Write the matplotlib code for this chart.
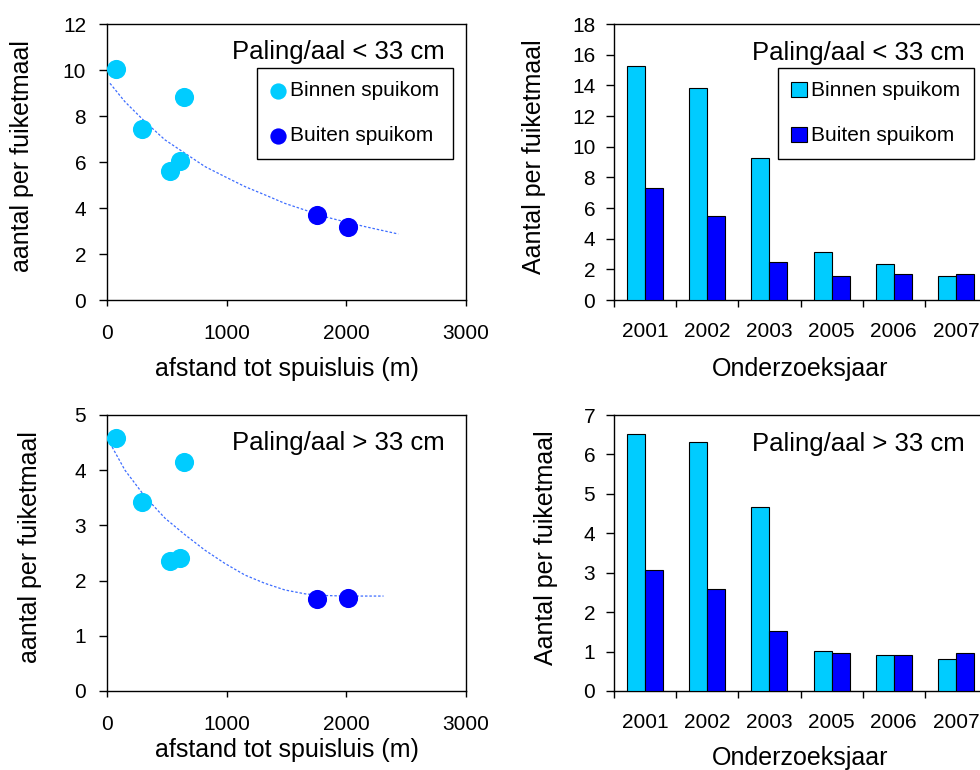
import numpy as np
import matplotlib
matplotlib.use("Agg")
import matplotlib.pyplot as plt

plt.rcParams['font.family'] = ['Liberation Sans', 'DejaVu Sans']

# afstand tot spuisluis (m) per fuikpositie
afstand_binnen = [72, 296, 527, 611, 644]
afstand_buiten = [1751, 2018]

# aantal per fuiketmaal, kleine paling (< 33 cm)
klein_binnen = [10.04, 7.43, 5.59, 6.04, 8.82]
klein_buiten = [3.70, 3.16]

# aantal per fuiketmaal, grote paling (> 33 cm)
groot_binnen = [4.58, 3.42, 2.36, 2.41, 4.14]
groot_buiten = [1.67, 1.69]

# trendlijnen
trend_x_klein = [25, 150, 318, 485, 652, 819, 986, 1153, 1320, 1487, 1655, 1822, 1989, 2156, 2434]
trend_klein = [9.42, 8.62, 7.75, 6.96, 6.38, 5.80, 5.36, 4.93, 4.57, 4.20, 3.91, 3.62, 3.40, 3.19, 2.87]
trend_x_groot = [25, 150, 318, 485, 652, 819, 986, 1153, 1320, 1487, 1655, 1822, 1989, 2311]
trend_groot = [4.49, 4.00, 3.52, 3.13, 2.83, 2.55, 2.31, 2.10, 1.95, 1.83, 1.76, 1.73, 1.72, 1.72]

# per onderzoeksjaar
jaren = ['2001', '2002', '2003', '2005', '2006', '2007']
jaar_klein_binnen = [15.24, 13.82, 9.25, 3.13, 2.35, 1.57]
jaar_klein_buiten = [7.29, 5.48, 2.48, 1.57, 1.70, 1.70]
jaar_groot_binnen = [6.53, 6.32, 4.66, 1.02, 0.91, 0.81]
jaar_groot_buiten = [3.08, 2.58, 1.52, 0.96, 0.91, 0.96]

licht = '#00CCFF'
donker = '#0000FF'
trend_kleur = '#3D6DFF'

W, H = 980, 770
fig = plt.figure(figsize=(W / 100, H / 100), dpi=100)


def px_axes(x0, y0, x1, y1):
    # rechthoek in pixels (links, boven, rechts, onder)
    return fig.add_axes([x0 / W, 1 - y1 / H, (x1 - x0) / W, (y1 - y0) / H])


def opmaak(ax, ypad):
    for s in ax.spines.values():
        s.set_linewidth(1.0)
        s.set_color('black')
    ax.tick_params(axis='y', direction='out', length=6, width=1, pad=ypad, labelsize=15)
    ax.tick_params(axis='x', direction='out', length=4, width=1, pad=13, labelsize=15)


def ylabel(ax, tekst, xpos):
    ax.set_ylabel(tekst, fontsize=18)
    ax.yaxis.label.set_verticalalignment('center')
    ax.yaxis.set_label_coords(xpos, 0.52)


def spreiding(ax, yb, yu, tx, ty, ymax, yticks, titel, legenda, label_top, ylab_x):
    ax.plot(tx, ty, color=trend_kleur, lw=0.9, linestyle=(0, (2, 1.5)), zorder=2)
    ax.scatter(afstand_binnen, yb, s=190, color=licht, label='Binnen spuikom',
               zorder=3, linewidths=0)
    ax.scatter(afstand_buiten, yu, s=190, color=donker, label='Buiten spuikom',
               zorder=3, linewidths=0)
    ax.set_xlim(0, 3000)
    ax.set_ylim(0, ymax)
    ax.set_xticks([0, 1000, 2000, 3000])
    ax.set_yticks(yticks)
    opmaak(ax, 9)
    ax.text(0.942, 0.873, titel, transform=ax.transAxes, ha='right', va='baseline', fontsize=18.5)
    ax.set_xlabel('afstand tot spuisluis (m)', fontsize=18)
    ax.xaxis.set_label_coords(0.5, label_top)
    ylabel(ax, 'aantal per fuiketmaal', ylab_x)
    if legenda:
        ax.legend(loc='upper right', bbox_to_anchor=(0.964, 0.841), fontsize=15,
                  frameon=True, fancybox=False, edgecolor='black', framealpha=1,
                  borderpad=0.65, labelspacing=1.25, handlelength=0.7,
                  handletextpad=0.25, borderaxespad=0, scatterpoints=1, markerscale=0.85)
        ax.get_legend().get_frame().set_linewidth(1.0)


def staven(ax, vb, vu, ymax, yticks, titel, legenda, label_top, ylab_x):
    idx = np.arange(len(jaren))
    bw = 0.29
    ax.bar(idx + 0.5 - bw / 2, vb, width=bw, color=licht, edgecolor='black', lw=0.8,
           label='Binnen spuikom', zorder=3)
    ax.bar(idx + 0.5 + bw / 2, vu, width=bw, color=donker, edgecolor='black', lw=0.8,
           label='Buiten spuikom', zorder=3)
    ax.set_xlim(0, len(jaren))
    ax.set_ylim(0, ymax)
    ax.set_yticks(yticks)
    ax.set_xticks(np.arange(len(jaren) + 1))
    ax.set_xticklabels([])
    ax.set_xticks(idx + 0.5, minor=True)
    ax.set_xticklabels(jaren, minor=True)
    opmaak(ax, 7.5)
    ax.tick_params(axis='x', which='major', length=5)
    ax.tick_params(axis='x', which='minor', length=0, pad=16, labelsize=15)
    ax.text(0.941, 0.87, titel, transform=ax.transAxes, ha='right', va='baseline', fontsize=18.5)
    ax.set_xlabel('Onderzoeksjaar', fontsize=18)
    ax.xaxis.set_label_coords(0.5, label_top)
    ylabel(ax, 'Aantal per fuiketmaal', ylab_x)
    if legenda:
        ax.legend(loc='upper right', bbox_to_anchor=(0.965, 0.841), fontsize=15,
                  frameon=True, fancybox=False, edgecolor='black', framealpha=1,
                  borderpad=0.65, labelspacing=1.25, handlelength=0.77, handleheight=0.72,
                  handletextpad=0.2, borderaxespad=0)
        ax.get_legend().get_frame().set_linewidth(1.0)


ax1 = px_axes(107, 24, 466, 300)
spreiding(ax1, klein_binnen, klein_buiten, trend_x_klein, trend_klein, 12, range(0, 13, 2),
          'Paling/aal < 33 cm', True, -0.205, -0.237)

ax2 = px_axes(614, 24, 987, 300)
staven(ax2, jaar_klein_binnen, jaar_klein_buiten, 18, range(0, 19, 2),
       'Paling/aal < 33 cm', True, -0.205, -0.214)

ax3 = px_axes(107, 415, 466, 691)
spreiding(ax3, groot_binnen, groot_buiten, trend_x_groot, trend_groot, 5, range(0, 6),
          'Paling/aal > 33 cm', False, -0.17, -0.214)

ax4 = px_axes(614, 415, 987, 691)
staven(ax4, jaar_groot_binnen, jaar_groot_buiten, 7, range(0, 8),
       'Paling/aal > 33 cm', False, -0.2, -0.182)

fig.savefig('out.png', dpi=100)
